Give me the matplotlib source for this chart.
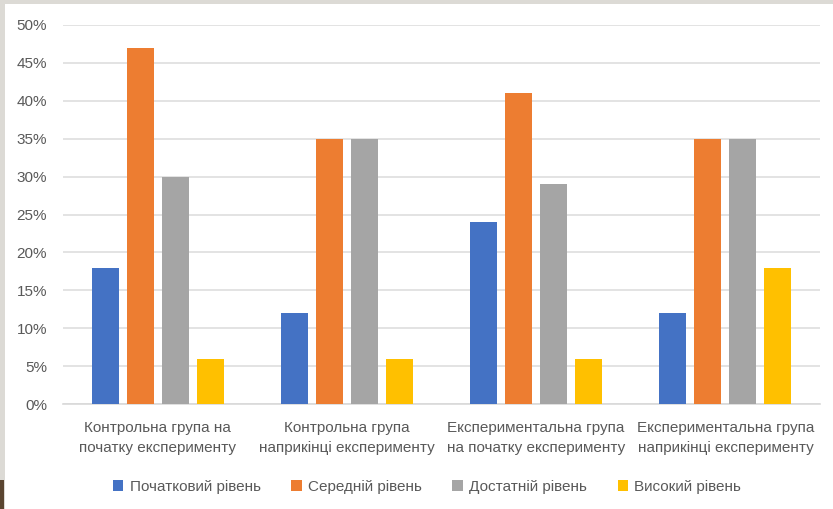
import numpy as np
import matplotlib.pyplot as plt
from matplotlib.patches import Rectangle

groups = ['Контрольна група на\nпочатку експерименту',
          'Контрольна група\nнаприкінці експерименту',
          'Експериментальна група\nна початку експерименту',
          'Експериментальна група\nнаприкінці експерименту']
series = ['Початковий рівень', 'Середній рівень', 'Достатній рівень', 'Високий рівень']
pochatkovyi = [18, 12, 24, 12]
serednii = [47, 35, 41, 35]
dostatnii = [30, 35, 29, 35]
vysokyi = [6, 6, 6, 18]
colors = ['#4472C4', '#ED7D31', '#A5A5A5', '#FFC000']

plt.rcParams['font.family'] = ['Liberation Sans', 'DejaVu Sans']

fig = plt.figure(figsize=(8.33, 5.09), dpi=100)
fig.patch.set_facecolor('#DCDAD5')
# white chart panel
fig.patches.append(Rectangle((5/833, 0), 1, 1 - 4/509, transform=fig.transFigure,
                             facecolor='white', edgecolor='none', zorder=-10))
fig.patches.append(Rectangle((0, 0), 4/833, 29/509, transform=fig.transFigure,
                             facecolor='#5A4530', edgecolor='none', zorder=-10))

ax = fig.add_axes([63/833, 1 - 404/509, (820 - 63)/833, (404 - 25)/509])
ax.set_facecolor('none')

x = np.arange(len(groups))
w = 0.143
step = 0.185
for i, (vals, c, name) in enumerate(zip([pochatkovyi, serednii, dostatnii, vysokyi], colors, series)):
    ax.bar(x + (i - 1.5) * step, vals, width=w, color=c, label=name, zorder=3)

ax.set_xlim(-0.5, len(groups) - 0.5)
ax.set_ylim(0, 50)
ax.set_yticks(np.arange(0, 51, 5))
ax.set_yticklabels([f'{v}%' for v in range(0, 51, 5)])
ax.set_xticks(x)
ax.set_xticklabels(groups, fontsize=11, color='#595959', linespacing=1.55)
ax.tick_params(axis='y', labelsize=11, colors='#595959', length=0, pad=11.5)
ax.tick_params(axis='x', length=0, pad=12)
ax.grid(axis='y', color='#DEDEDE', linewidth=1.2, zorder=0)
for s in ['top', 'right', 'left']:
    ax.spines[s].set_visible(False)
ax.spines['bottom'].set_color('#D9D9D9')
ax.spines['bottom'].set_linewidth(1.2)

fig.legend(loc='center', bbox_to_anchor=(427/833, 1 - 487/509), ncol=4, frameon=False,
           fontsize=11, handlelength=0.7, handleheight=0.7, handletextpad=0.4,
           columnspacing=2.0, labelcolor='#595959')

fig.savefig('out.png', dpi=100, facecolor=fig.get_facecolor())
